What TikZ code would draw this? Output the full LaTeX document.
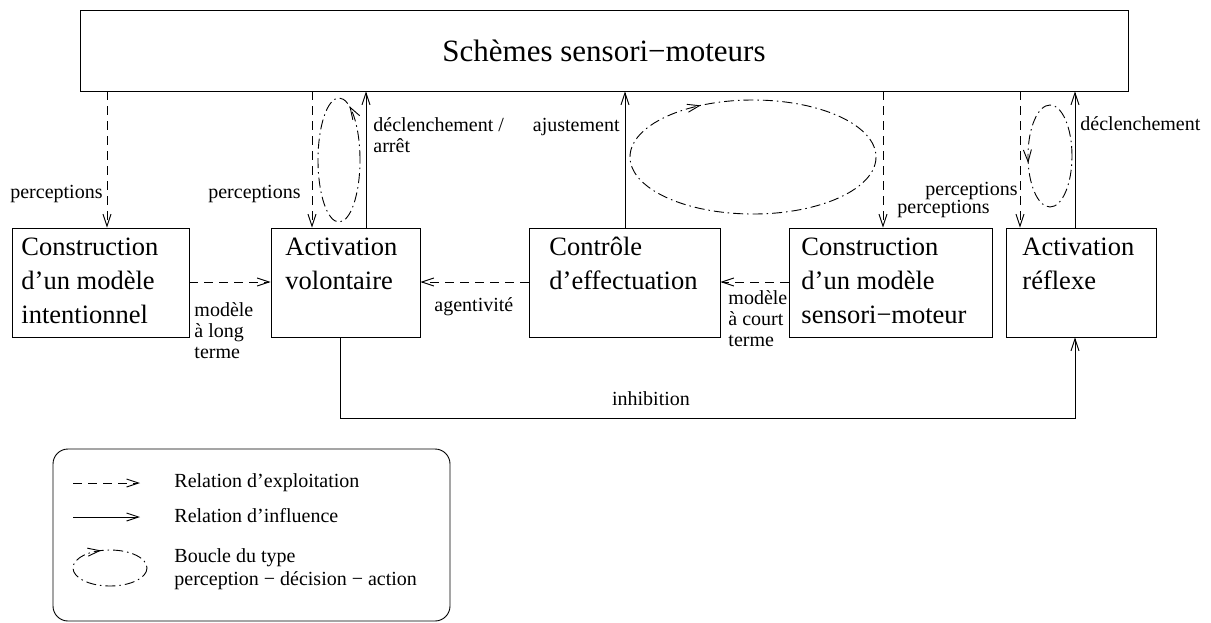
\documentclass[tikz,border=0pt]{standalone}
\usepackage{fontspec}
\setmainfont{Liberation Serif}
\usetikzlibrary{arrows.meta,decorations.markings}
\newcommand{\mlines}[1]{\begin{tabular}[t]{@{}l@{}}#1\end{tabular}}
\begin{document}
\begin{tikzpicture}[x=1pt,y=-1pt,
  line width=0.9pt,
  >={Straight Barb[length=12pt,width=8pt]},
  boxstyle/.style={draw, rectangle, inner sep=0pt},
  bt/.style={anchor=base west, inner sep=0pt, font=\fontsize{26.5}{34}\selectfont},
  lab/.style={inner sep=0pt, font=\fontsize{20}{21}\selectfont},
  expl/.style={->, dash pattern=on 9pt off 6pt},
  infl/.style={->},
  loopline/.style={dash pattern=on 10pt off 4pt on 1.5pt off 4pt},
  loopmark/.style={postaction={decorate, decoration={markings,
      mark=at position #1 with {\arrow{Straight Barb[length=12pt,width=8pt]}}}}}
]
\useasboundingbox (0,0) rectangle (1211,622);

% top box
\node[boxstyle, minimum width=1048pt, minimum height=81pt,
      font=\fontsize{31}{36}\selectfont] (smm) at (604,50.5) {Schèmes sensori−moteurs};

% boxes
\node[boxstyle, minimum width=177pt, minimum height=109pt] (b1) at (100.5,282.5) {};
\node[boxstyle, minimum width=149pt, minimum height=109pt] (b2) at (345.5,282.5) {};
\node[boxstyle, minimum width=191pt, minimum height=109pt] (b3) at (624.5,282.5) {};
\node[boxstyle, minimum width=203pt, minimum height=109pt] (b4) at (890.5,282.5) {};
\node[boxstyle, minimum width=150pt, minimum height=109pt] (b5) at (1081,282.5) {};

\node[bt] (t1) at (21,255) {\mlines{Construction\\d’un modèle\\intentionnel}};
\node[bt] (t2) at (285,255) {\mlines{Activation\\volontaire}};
\node[bt] (t3) at (549,255) {\mlines{Contrôle\\d’effectuation}};
\node[bt] (t4) at (801,255) {\mlines{Construction\\d’un modèle\\sensori−moteur}};
\node[bt] (t5) at (1022,255) {\mlines{Activation\\réflexe}};

% vertical connectors
\coordinate (x1) at (107,0);
\coordinate (x2) at (312,0);
\coordinate (x3) at (366,0);
\coordinate (x4) at (625,0);
\coordinate (x5) at (883,0);
\coordinate (x6) at (1020,0);
\coordinate (x7) at (1075,0);
\coordinate (xi) at (340,0);
\coordinate (yh) at (0,282);
\coordinate (yi) at (0,418);

\draw[expl] (x1 |- smm.south) -- (x1 |- b1.north);
\draw[expl] (x2 |- smm.south) -- (x2 |- b2.north);
\draw[infl] (x3 |- b2.north) -- (x3 |- smm.south);
\draw[infl] (x4 |- b3.north) -- (x4 |- smm.south);
\draw[expl] (x5 |- smm.south) -- (x5 |- b4.north);
\draw[expl] (x6 |- smm.south) -- (x6 |- b5.north);
\draw[infl] (x7 |- b5.north) -- (x7 |- smm.south);

% horizontal connectors
\draw[expl] (b1.east |- yh) -- (b2.west |- yh);
\draw[expl] (b3.west |- yh) -- (b2.east |- yh);
\draw[expl] (b4.west |- yh) -- (b3.east |- yh);
\draw[infl] (xi |- b2.south) -- (xi |- yi) -| (x7 |- b5.south);

% loops
\draw[loopline, loopmark=0.2] (339,160) ellipse [x radius=21pt, y radius=62pt];
\draw[loopline, loopmark=0.53] (1050,156) ellipse [x radius=22pt, y radius=51pt];
\draw[loopline, loopmark=0.66] (753,157) ellipse [x radius=123pt, y radius=-57pt];

% labels
\node[lab, anchor=base east] (lp1) at (103,198) {perceptions};
\node[lab, anchor=base east] (lp2) at (301,198) {perceptions};
\node[lab, anchor=base west] (ld1) at (373,131) {\mlines{déclenchement /\\arrêt}};
\node[lab, anchor=base east] (laj) at (620,131) {ajustement};
\node[lab, anchor=base west] (lp4) at (897,213) {perceptions};
\node[lab, anchor=base east] (lp5) at (1018,195) {perceptions};
\node[lab, anchor=base west] (ld5) at (1080,130) {déclenchement};
\node[lab, anchor=base west] (lm1) at (194,316) {\mlines{modèle\\à long\\terme}};
\node[lab, anchor=base west] (lag) at (434,311) {agentivité};
\node[lab, anchor=base west] (lm2) at (728,304) {\mlines{modèle\\à court\\terme}};
\node[lab, anchor=base] (lin) at (651,405) {inhibition};

% legend
\draw[rounded corners=15pt] (53,449) rectangle (450,621);
\coordinate (la1) at (73,483); \coordinate (la2) at (140,483);
\coordinate (lb1) at (73,517); \coordinate (lb2) at (140,517);
\draw[expl] (la1) -- (la2);
\draw[infl] (lb1) -- (lb2);
\draw[loopline, loopmark=0.7] (110,568) ellipse [x radius=37pt, y radius=-18pt];
\node[lab, anchor=base west] (le1) at (174,487) {Relation d’exploitation};
\node[lab, anchor=base west] (le2) at (174,522) {Relation d’influence};
\node[lab, anchor=base west, font=\fontsize{20}{23}\selectfont] (le3) at (174,562)
  {\mlines{Boucle du type\\perception − décision − action}};
\end{tikzpicture}
\end{document}
